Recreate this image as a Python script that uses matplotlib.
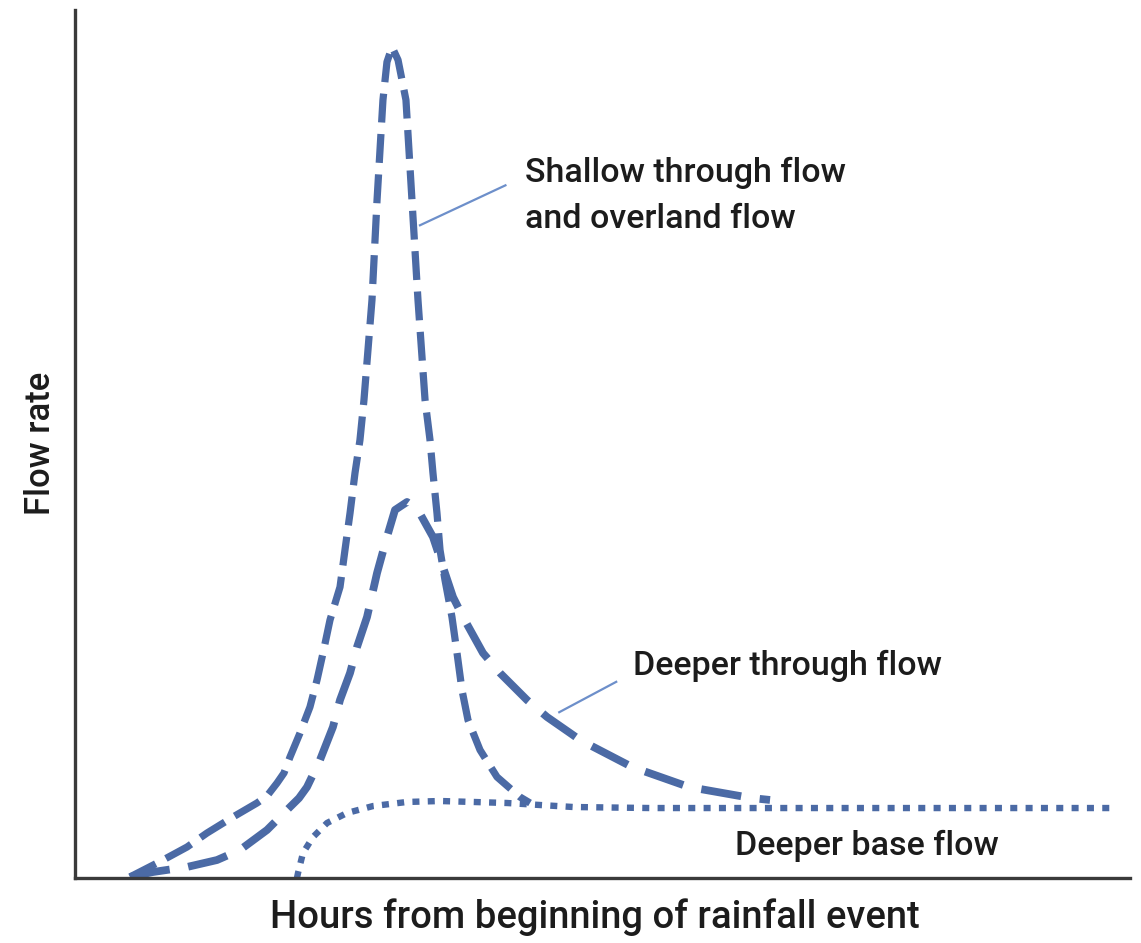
import matplotlib
matplotlib.use('Agg')
import matplotlib.pyplot as plt

# Схематичная гидрограмма: значения (x - часы, y - расход, усл. ед.)
shallow_x = [5.21, 8.34, 10.62, 12.51, 14.98, 17.25, 18.20, 19.15, 19.81, 20.38, 21.33,
             22.27, 22.94, 23.51, 24.17, 25.12, 25.59, 26.07, 26.54, 27.01, 27.39, 28.15,
             28.63, 29.19, 29.57, 30.05, 30.62, 31.37, 31.94, 32.51, 33.18, 33.65, 33.93,
             34.31, 34.60, 35.07, 35.73, 36.21, 36.68, 37.25, 38.39, 40.00, 42.18, 43.13]
shallow_y = [0.12, 2.07, 3.57, 5.18, 7.03, 8.64, 9.45, 10.94, 12.10, 13.94, 16.71,
             19.70, 22.81, 25.92, 29.72, 33.53, 37.79, 42.05, 46.66, 50.46, 55.07, 66.59,
             78.11, 89.63, 94.01, 95.74, 94.24, 89.63, 78.11, 66.59, 55.07, 50.46, 46.66,
             42.05, 37.79, 34.33, 30.07, 25.92, 21.66, 18.20, 14.75, 11.64, 9.33, 8.64]

deep_x = [5.21, 7.39, 10.62, 13.46, 15.64, 18.20, 20.38, 21.23, 21.99, 23.22, 24.45,
          25.12, 26.07, 26.73, 27.68, 28.63, 29.57, 30.33, 31.47, 32.51, 33.93, 34.88,
          35.83, 36.78, 38.67, 40.28, 42.84, 44.74, 46.92, 47.87, 52.80, 58.20, 64.08,
          65.88]
deep_y = [0.12, 0.69, 1.27, 2.07, 3.23, 5.53, 8.18, 9.20, 10.48, 13.59, 17.40,
          20.51, 23.62, 26.61, 30.07, 35.14, 39.29, 42.40, 43.32, 42.40, 39.29, 35.83,
          32.37, 30.07, 25.92, 23.62, 20.51, 18.55, 16.71, 15.90, 12.79, 10.48, 9.22,
          8.99]

base_x = [21.04, 21.14, 21.61, 22.56, 23.89, 25.78, 28.25, 31.47, 34.60, 37.73, 40.95,
          44.08, 47.20, 54.50, 98.39]
base_y = [0.00, 0.58, 2.88, 4.72, 6.34, 7.49, 8.29, 8.76, 8.87, 8.76, 8.64,
          8.41, 8.18, 8.06, 8.06]

labels = ['Shallow through flow', 'and overland flow', 'Deeper through flow', 'Deeper base flow']
x_label = 'Hours from beginning of rainfall event'
y_label = 'Flow rate'

blue = '#4b6aa5'
thin_blue = '#6d8fca'
text_color = '#1c1c1c'
font = ['Roboto', 'DejaVu Sans']

fig = plt.figure(figsize=(11.41, 9.43), dpi=100)
ax = fig.add_axes([75 / 1141, 65 / 943, 1055 / 1141, 868 / 943])

ax.plot(shallow_x, shallow_y, color=blue, linewidth=5.2, dashes=(4.0, 1.6),
        dash_capstyle='butt', solid_joinstyle='round')
ax.plot(deep_x, deep_y, color=blue, linewidth=5.6, dashes=(5.2, 2.4),
        dash_capstyle='butt', solid_joinstyle='round')
ax.plot(base_x, base_y, color=blue, linewidth=4.6, dashes=(1.1, 1.3),
        dash_capstyle='butt')

# выноски
ax.plot([32.7, 40.8], [75.2, 79.8], color=thin_blue, linewidth=1.6)
ax.plot([45.9, 51.3], [19.1, 22.6], color=thin_blue, linewidth=1.6)

txt = dict(fontsize=24.5, family=font, color=text_color, va='baseline', weight='medium')
ax.text(42.65, 80.2, labels[0], **txt)
ax.text(42.65, 74.9, labels[1], **txt)
ax.text(52.9, 23.4, labels[2], **txt)
ax.text(62.6, 2.65, labels[3], **txt)

ax.set_xlim(0, 100)
ax.set_ylim(0, 100)
ax.set_xticks([])
ax.set_yticks([])
for side in ['top', 'right']:
    ax.spines[side].set_visible(False)
for side in ['left', 'bottom']:
    ax.spines[side].set_linewidth(2.4)
    ax.spines[side].set_color('#3a3a3a')

fig.text(595 / 1141, 15 / 943, x_label, fontsize=27.5, family=font, color=text_color,
         ha='center', va='baseline', weight='medium')
fig.text(40 / 1141, 500 / 943, y_label, fontsize=25, family=font, color=text_color,
         ha='center', va='center', rotation=90, weight='medium')

plt.savefig('out.png', dpi=100)
plt.close()
